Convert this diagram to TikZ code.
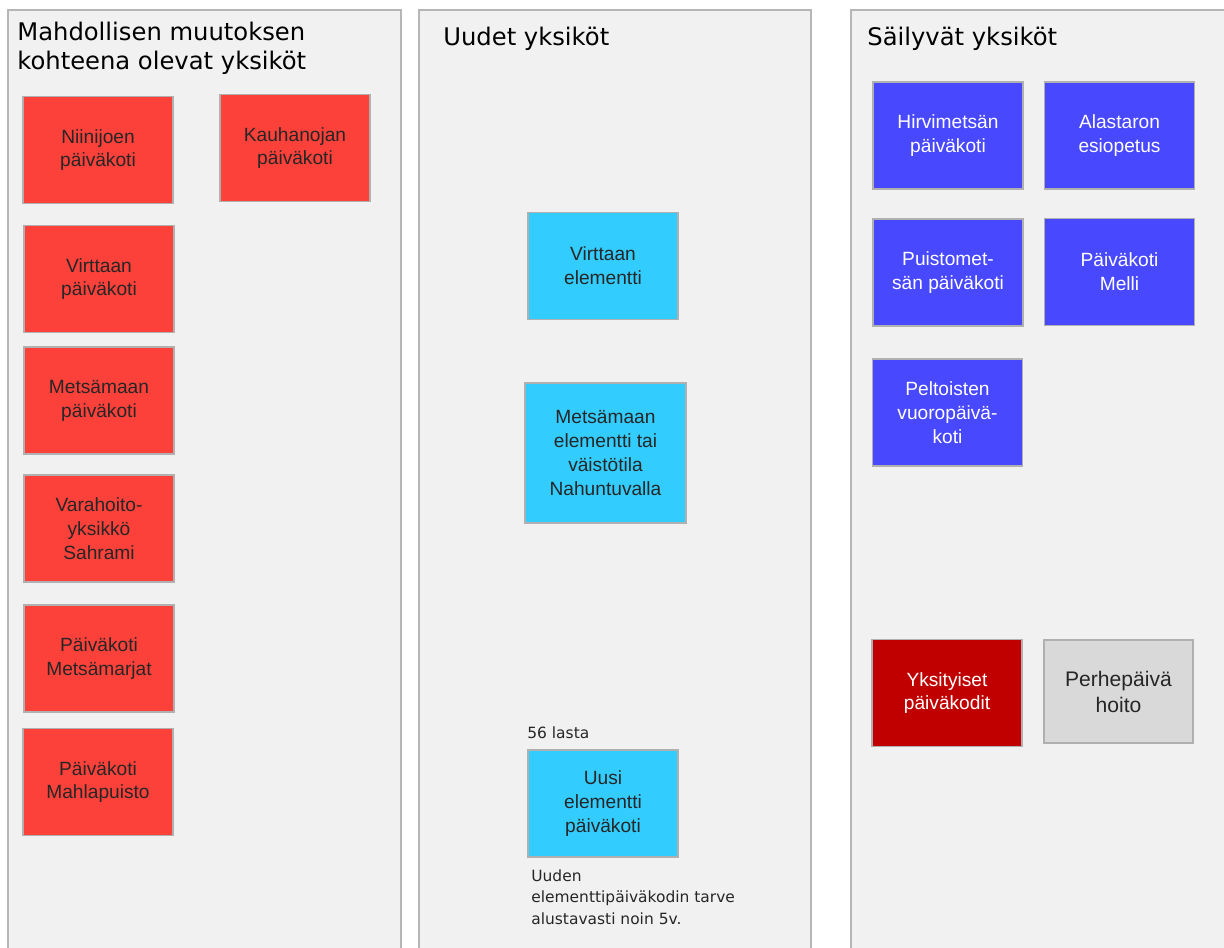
\documentclass[tikz,border=0pt]{standalone}
\usepackage{fontspec}
\setmainfont{Liberation Sans}
\newfontfamily\titlefam{DejaVu Sans}
\usetikzlibrary{positioning}
\definecolor{panelbg}{RGB}{241,241,241}
\definecolor{panelline}{RGB}{182,182,182}
\definecolor{boxline}{RGB}{176,176,176}
\definecolor{unitred}{RGB}{251,65,58}
\definecolor{unitcyan}{RGB}{51,204,255}
\definecolor{unitblue}{RGB}{72,72,255}
\definecolor{privred}{RGB}{192,0,0}
\definecolor{familygray}{RGB}{217,217,217}
\definecolor{unittext}{RGB}{38,38,38}
\newcommand{\headfont}{\titlefam\fontsize{13.8}{16.5}\selectfont}
\newcommand{\notefont}{\titlefam\fontsize{8.8}{12}\selectfont}
\newcommand{\unitfont}{\fontsize{10.9}{13.6}\selectfont}

\begin{document}
\begin{tikzpicture}[x=0.02cm,y=-0.02cm,
    panel/.style={draw=panelline, fill=panelbg, line width=0.9pt},
    unit/.style={draw=boxline, line width=0.9pt, minimum width=3cm,
      minimum height=2.14cm, inner sep=0pt, align=center, font=\unitfont},
    oldunit/.style={unit, fill=unitred, text=unittext},
    newunit/.style={unit, fill=unitcyan, text=unittext},
    keepunit/.style={unit, fill=unitblue, text=white},
    heading/.style={anchor=base west, align=left, font=\headfont, inner sep=0pt},
    note/.style={anchor=base west, align=left, font=\notefont, text=unittext, inner sep=0pt}]
  \useasboundingbox (0,0) rectangle (1224,947);
  \clip (0,0) rectangle (1224,947);
  % panels
  \draw[panel] (8,10) rectangle (401,980);
  \draw[panel] (419,10) rectangle (811,980);
  \draw[panel] (851,10) rectangle (1260,980);
  % headings (base = last line)
  \node[heading] (hchange) at (17,69) {Mahdollisen muutoksen\\kohteena olevat yksiköt};
  \node[heading] (hnew) at (443,45) {Uudet yksiköt};
  \node[heading] (hkeep) at (867,45) {Säilyvät yksiköt};
  % units that may change
  \node[oldunit] (niinijoki) at (98,150) {Niinijoen\\päiväkoti};
  \node[oldunit] (kauhanoja) at (295,148) {Kauhanojan\\päiväkoti};
  \node[oldunit] (virttaa) at (99,279) {Virttaan\\päiväkoti};
  \node[oldunit] (metsamaa) at (99,400.5) {Metsämaan\\päiväkoti};
  \node[oldunit] (sahrami) at (99,528.5) {Varahoito-\\yksikkö\\Sahrami};
  \node[oldunit] (metsamarjat) at (99,658.5) {Päiväkoti\\Metsämarjat};
  \node[oldunit] (mahlapuisto) at (98,782) {Päiväkoti\\Mahlapuisto};
  % new units
  \node[newunit] (virttaael) at (603,266) {Virttaan\\elementti};
  \node[newunit, minimum width=3.22cm, minimum height=2.8cm] (metsamaael) at (605.5,453)
    {Metsämaan\\elementti tai\\väistötila\\Nahuntuvalla};
  \node[newunit] (uusiel) at (603,803.5) {Uusi\\elementti\\päiväkoti};
  \node[note] (lasta) at (527,738) {56 lasta};
  \node[note] (tarve) at (531,924) {Uuden\\elementtipäiväkodin tarve\\alustavasti noin 5v.};
  % units that stay
  \node[keepunit] (hirvimetsa) at (948,135.5) {Hirvimetsän\\päiväkoti};
  \node[keepunit] (alastaro) at (1119.5,135.5) {Alastaron\\esiopetus};
  \node[keepunit] (puistometsa) at (948,272.5) {Puistomet-\\sän päiväkoti};
  \node[keepunit] (melli) at (1119.5,272) {Päiväkoti\\Melli};
  \node[keepunit] (peltoinen) at (947.5,412.5) {Peltoisten\\vuoropäivä-\\koti};
  \node[unit, fill=privred, text=white] (yksityiset) at (947,693) {Yksityiset\\päiväkodit};
  \node[unit, fill=familygray, text=unittext, minimum width=2.98cm, minimum height=2.06cm,
    font=\fontsize{12}{14.8}\selectfont] (perhe) at (1118.5,691.5) {Perhepäivä\\hoito};
\end{tikzpicture}
\end{document}
